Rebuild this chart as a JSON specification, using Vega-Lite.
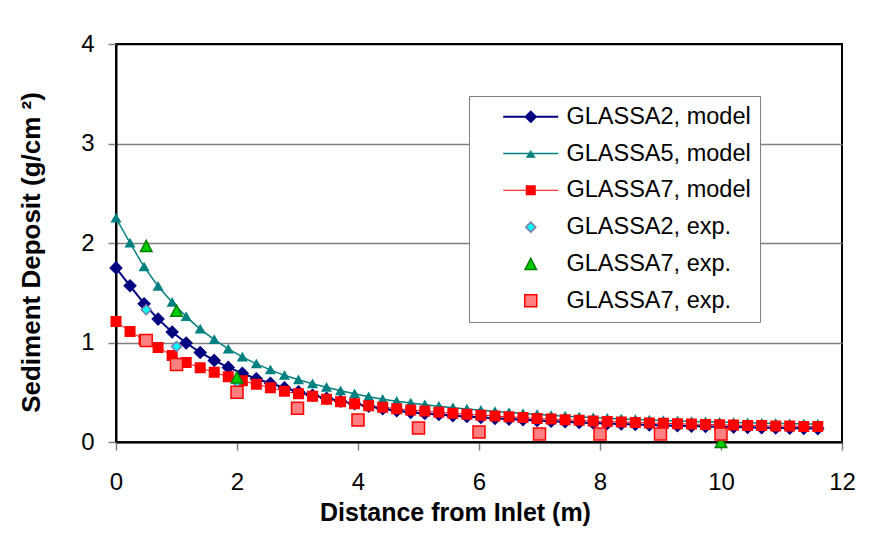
{
  "$schema": "https://vega.github.io/schema/vega-lite/v6.json",
  "width": 726,
  "height": 398,
  "autosize": {"type": "none"},
  "padding": {"left": 116, "top": 44, "right": 32, "bottom": 97},
  "background": "white",
  "config": {
    "font": "Liberation Sans",
    "view": {"stroke": "black", "strokeWidth": 2, "fill": "white"},
    "legend": {
      "orient": "none", "legendX": 353, "legendY": 52,
      "padding": 9,
      "fillColor": "white", "strokeColor": "#808080",
      "labelFontSize": 23.5, "labelColor": "black", "labelLimit": 400,
      "symbolSize": 100, "symbolOffset": 41, "labelOffset": 24,
      "rowPadding": 11.8
    }
  },
  "data": {
    "values": [
      {"series": "GLASSA2, model", "x": 0, "y": 1.75}, {"series": "GLASSA2, model", "x": 0.232, "y": 1.57}, {"series": "GLASSA2, model", "x": 0.464, "y": 1.39}, {"series": "GLASSA2, model", "x": 0.696, "y": 1.235}, {"series": "GLASSA2, model", "x": 0.928, "y": 1.105}, {"series": "GLASSA2, model", "x": 1.16, "y": 0.995}, {"series": "GLASSA2, model", "x": 1.392, "y": 0.9}, {"series": "GLASSA2, model", "x": 1.624, "y": 0.82}, {"series": "GLASSA2, model", "x": 1.856, "y": 0.75}, {"series": "GLASSA2, model", "x": 2.088, "y": 0.69}, {"series": "GLASSA2, model", "x": 2.32, "y": 0.635}, {"series": "GLASSA2, model", "x": 2.552, "y": 0.59}, {"series": "GLASSA2, model", "x": 2.784, "y": 0.545}, {"series": "GLASSA2, model", "x": 3.016, "y": 0.505}, {"series": "GLASSA2, model", "x": 3.248, "y": 0.47}, {"series": "GLASSA2, model", "x": 3.48, "y": 0.44}, {"series": "GLASSA2, model", "x": 3.712, "y": 0.41}, {"series": "GLASSA2, model", "x": 3.944, "y": 0.385}, {"series": "GLASSA2, model", "x": 4.176, "y": 0.36}, {"series": "GLASSA2, model", "x": 4.408, "y": 0.335}, {"series": "GLASSA2, model", "x": 4.64, "y": 0.315}, {"series": "GLASSA2, model", "x": 4.872, "y": 0.298}, {"series": "GLASSA2, model", "x": 5.104, "y": 0.286}, {"series": "GLASSA2, model", "x": 5.336, "y": 0.276}, {"series": "GLASSA2, model", "x": 5.568, "y": 0.265}, {"series": "GLASSA2, model", "x": 5.8, "y": 0.256}, {"series": "GLASSA2, model", "x": 6.032, "y": 0.247}, {"series": "GLASSA2, model", "x": 6.264, "y": 0.238}, {"series": "GLASSA2, model", "x": 6.496, "y": 0.23}, {"series": "GLASSA2, model", "x": 6.728, "y": 0.223}, {"series": "GLASSA2, model", "x": 6.96, "y": 0.216}, {"series": "GLASSA2, model", "x": 7.192, "y": 0.209}, {"series": "GLASSA2, model", "x": 7.424, "y": 0.203}, {"series": "GLASSA2, model", "x": 7.656, "y": 0.197}, {"series": "GLASSA2, model", "x": 7.888, "y": 0.191}, {"series": "GLASSA2, model", "x": 8.12, "y": 0.186}, {"series": "GLASSA2, model", "x": 8.352, "y": 0.181}, {"series": "GLASSA2, model", "x": 8.584, "y": 0.176}, {"series": "GLASSA2, model", "x": 8.816, "y": 0.172}, {"series": "GLASSA2, model", "x": 9.048, "y": 0.167}, {"series": "GLASSA2, model", "x": 9.28, "y": 0.164}, {"series": "GLASSA2, model", "x": 9.512, "y": 0.16}, {"series": "GLASSA2, model", "x": 9.744, "y": 0.156}, {"series": "GLASSA2, model", "x": 9.976, "y": 0.153}, {"series": "GLASSA2, model", "x": 10.208, "y": 0.15}, {"series": "GLASSA2, model", "x": 10.44, "y": 0.147}, {"series": "GLASSA2, model", "x": 10.672, "y": 0.144}, {"series": "GLASSA2, model", "x": 10.904, "y": 0.142}, {"series": "GLASSA2, model", "x": 11.136, "y": 0.139}, {"series": "GLASSA2, model", "x": 11.368, "y": 0.137}, {"series": "GLASSA2, model", "x": 11.6, "y": 0.135},
      {"series": "GLASSA5, model", "x": 0, "y": 2.25}, {"series": "GLASSA5, model", "x": 0.232, "y": 2.0}, {"series": "GLASSA5, model", "x": 0.464, "y": 1.76}, {"series": "GLASSA5, model", "x": 0.696, "y": 1.565}, {"series": "GLASSA5, model", "x": 0.928, "y": 1.405}, {"series": "GLASSA5, model", "x": 1.16, "y": 1.26}, {"series": "GLASSA5, model", "x": 1.392, "y": 1.135}, {"series": "GLASSA5, model", "x": 1.624, "y": 1.03}, {"series": "GLASSA5, model", "x": 1.856, "y": 0.935}, {"series": "GLASSA5, model", "x": 2.088, "y": 0.855}, {"series": "GLASSA5, model", "x": 2.32, "y": 0.785}, {"series": "GLASSA5, model", "x": 2.552, "y": 0.725}, {"series": "GLASSA5, model", "x": 2.784, "y": 0.67}, {"series": "GLASSA5, model", "x": 3.016, "y": 0.625}, {"series": "GLASSA5, model", "x": 3.248, "y": 0.585}, {"series": "GLASSA5, model", "x": 3.48, "y": 0.55}, {"series": "GLASSA5, model", "x": 3.712, "y": 0.515}, {"series": "GLASSA5, model", "x": 3.944, "y": 0.485}, {"series": "GLASSA5, model", "x": 4.176, "y": 0.455}, {"series": "GLASSA5, model", "x": 4.408, "y": 0.43}, {"series": "GLASSA5, model", "x": 4.64, "y": 0.41}, {"series": "GLASSA5, model", "x": 4.872, "y": 0.392}, {"series": "GLASSA5, model", "x": 5.104, "y": 0.375}, {"series": "GLASSA5, model", "x": 5.336, "y": 0.36}, {"series": "GLASSA5, model", "x": 5.568, "y": 0.345}, {"series": "GLASSA5, model", "x": 5.8, "y": 0.331}, {"series": "GLASSA5, model", "x": 6.032, "y": 0.319}, {"series": "GLASSA5, model", "x": 6.264, "y": 0.307}, {"series": "GLASSA5, model", "x": 6.496, "y": 0.296}, {"series": "GLASSA5, model", "x": 6.728, "y": 0.286}, {"series": "GLASSA5, model", "x": 6.96, "y": 0.277}, {"series": "GLASSA5, model", "x": 7.192, "y": 0.268}, {"series": "GLASSA5, model", "x": 7.424, "y": 0.26}, {"series": "GLASSA5, model", "x": 7.656, "y": 0.252}, {"series": "GLASSA5, model", "x": 7.888, "y": 0.245}, {"series": "GLASSA5, model", "x": 8.12, "y": 0.238}, {"series": "GLASSA5, model", "x": 8.352, "y": 0.232}, {"series": "GLASSA5, model", "x": 8.584, "y": 0.227}, {"series": "GLASSA5, model", "x": 8.816, "y": 0.221}, {"series": "GLASSA5, model", "x": 9.048, "y": 0.216}, {"series": "GLASSA5, model", "x": 9.28, "y": 0.212}, {"series": "GLASSA5, model", "x": 9.512, "y": 0.207}, {"series": "GLASSA5, model", "x": 9.744, "y": 0.203}, {"series": "GLASSA5, model", "x": 9.976, "y": 0.2}, {"series": "GLASSA5, model", "x": 10.208, "y": 0.196}, {"series": "GLASSA5, model", "x": 10.44, "y": 0.193}, {"series": "GLASSA5, model", "x": 10.672, "y": 0.19}, {"series": "GLASSA5, model", "x": 10.904, "y": 0.187}, {"series": "GLASSA5, model", "x": 11.136, "y": 0.185}, {"series": "GLASSA5, model", "x": 11.368, "y": 0.182}, {"series": "GLASSA5, model", "x": 11.6, "y": 0.18},
      {"series": "GLASSA7, model", "x": 0, "y": 1.21}, {"series": "GLASSA7, model", "x": 0.232, "y": 1.11}, {"series": "GLASSA7, model", "x": 0.464, "y": 1.03}, {"series": "GLASSA7, model", "x": 0.696, "y": 0.95}, {"series": "GLASSA7, model", "x": 0.928, "y": 0.87}, {"series": "GLASSA7, model", "x": 1.16, "y": 0.8}, {"series": "GLASSA7, model", "x": 1.392, "y": 0.745}, {"series": "GLASSA7, model", "x": 1.624, "y": 0.7}, {"series": "GLASSA7, model", "x": 1.856, "y": 0.655}, {"series": "GLASSA7, model", "x": 2.088, "y": 0.615}, {"series": "GLASSA7, model", "x": 2.32, "y": 0.58}, {"series": "GLASSA7, model", "x": 2.552, "y": 0.545}, {"series": "GLASSA7, model", "x": 2.784, "y": 0.51}, {"series": "GLASSA7, model", "x": 3.016, "y": 0.485}, {"series": "GLASSA7, model", "x": 3.248, "y": 0.46}, {"series": "GLASSA7, model", "x": 3.48, "y": 0.43}, {"series": "GLASSA7, model", "x": 3.712, "y": 0.405}, {"series": "GLASSA7, model", "x": 3.944, "y": 0.385}, {"series": "GLASSA7, model", "x": 4.176, "y": 0.365}, {"series": "GLASSA7, model", "x": 4.408, "y": 0.35}, {"series": "GLASSA7, model", "x": 4.64, "y": 0.335}, {"series": "GLASSA7, model", "x": 4.872, "y": 0.322}, {"series": "GLASSA7, model", "x": 5.104, "y": 0.311}, {"series": "GLASSA7, model", "x": 5.336, "y": 0.299}, {"series": "GLASSA7, model", "x": 5.568, "y": 0.289}, {"series": "GLASSA7, model", "x": 5.8, "y": 0.279}, {"series": "GLASSA7, model", "x": 6.032, "y": 0.27}, {"series": "GLASSA7, model", "x": 6.264, "y": 0.261}, {"series": "GLASSA7, model", "x": 6.496, "y": 0.253}, {"series": "GLASSA7, model", "x": 6.728, "y": 0.245}, {"series": "GLASSA7, model", "x": 6.96, "y": 0.237}, {"series": "GLASSA7, model", "x": 7.192, "y": 0.231}, {"series": "GLASSA7, model", "x": 7.424, "y": 0.224}, {"series": "GLASSA7, model", "x": 7.656, "y": 0.218}, {"series": "GLASSA7, model", "x": 7.888, "y": 0.212}, {"series": "GLASSA7, model", "x": 8.12, "y": 0.207}, {"series": "GLASSA7, model", "x": 8.352, "y": 0.202}, {"series": "GLASSA7, model", "x": 8.584, "y": 0.197}, {"series": "GLASSA7, model", "x": 8.816, "y": 0.192}, {"series": "GLASSA7, model", "x": 9.048, "y": 0.188}, {"series": "GLASSA7, model", "x": 9.28, "y": 0.184}, {"series": "GLASSA7, model", "x": 9.512, "y": 0.18}, {"series": "GLASSA7, model", "x": 9.744, "y": 0.177}, {"series": "GLASSA7, model", "x": 9.976, "y": 0.174}, {"series": "GLASSA7, model", "x": 10.208, "y": 0.17}, {"series": "GLASSA7, model", "x": 10.44, "y": 0.167}, {"series": "GLASSA7, model", "x": 10.672, "y": 0.165}, {"series": "GLASSA7, model", "x": 10.904, "y": 0.162}, {"series": "GLASSA7, model", "x": 11.136, "y": 0.16}, {"series": "GLASSA7, model", "x": 11.368, "y": 0.157}, {"series": "GLASSA7, model", "x": 11.6, "y": 0.155},
      {"series": "GLASSA2, exp.", "x": 0.5, "y": 1.33}, {"series": "GLASSA2, exp.", "x": 1.0, "y": 0.96}, {"series": "GLASSA2, exp.", "x": 2.0, "y": 0.6},
      {"series": "GLASSA5, exp.", "x": 0.5, "y": 1.97}, {"series": "GLASSA5, exp.", "x": 1.0, "y": 1.32}, {"series": "GLASSA5, exp.", "x": 2.0, "y": 0.65}, {"series": "GLASSA5, exp.", "x": 10.0, "y": 0.0},
      {"series": "GLASSA7, exp.", "x": 0.5, "y": 1.02}, {"series": "GLASSA7, exp.", "x": 1.0, "y": 0.78}, {"series": "GLASSA7, exp.", "x": 2.0, "y": 0.5}, {"series": "GLASSA7, exp.", "x": 3.0, "y": 0.34}, {"series": "GLASSA7, exp.", "x": 4.0, "y": 0.22}, {"series": "GLASSA7, exp.", "x": 5.0, "y": 0.14}, {"series": "GLASSA7, exp.", "x": 6.0, "y": 0.1}, {"series": "GLASSA7, exp.", "x": 7.0, "y": 0.08}, {"series": "GLASSA7, exp.", "x": 8.0, "y": 0.08}, {"series": "GLASSA7, exp.", "x": 9.0, "y": 0.08}, {"series": "GLASSA7, exp.", "x": 10.0, "y": 0.08}
    ]
  },
  "encoding": {
    "x": {
      "field": "x", "type": "quantitative",
      "scale": {"domain": [0, 12], "nice": false, "zero": false},
      "title": "Distance from Inlet (m)",
      "axis": {
        "values": [0, 2, 4, 6, 8, 10, 12], "grid": false,
        "tickSize": 8, "tickColor": "#808080", "tickWidth": 1.5,
        "domainColor": "black", "domainWidth": 2,
        "labelFontSize": 24, "labelColor": "black", "labelPadding": 20, "labelFlush": false, "labelOverlap": false,
        "titleFontSize": 25, "titleFontWeight": "bold", "titleColor": "black", "titlePadding": 6, "titleX": 339
      }
    },
    "y": {
      "field": "y", "type": "quantitative",
      "scale": {"domain": [0, 4], "nice": false, "zero": false},
      "title": "Sediment Deposit (g/cm ²)",
      "axis": {
        "values": [0, 1, 2, 3, 4], "grid": true,
        "gridColor": {"condition": {"test": "datum.value === 4", "value": "black"}, "value": "#808080"},
        "gridWidth": 1.5,
        "tickSize": 8, "tickColor": "#808080", "tickWidth": 1.5,
        "domainColor": "black", "domainWidth": 2,
        "labelFontSize": 24, "labelColor": "black", "labelPadding": 14, "labelFlush": false,
        "titleFontSize": 26, "titleFontWeight": "bold", "titleColor": "black", "titlePadding": 36, "titleY": 208
      }
    }
  },
  "layer": [
    {
      "transform": [{"filter": "datum.series === 'GLASSA2, model'"}],
      "mark": {"type": "line", "color": "#000080", "strokeWidth": 2}
    },
    {
      "transform": [{"filter": "datum.series === 'GLASSA5, model'"}],
      "mark": {"type": "line", "color": "#008080", "strokeWidth": 1.5}
    },
    {
      "transform": [{"filter": "datum.series === 'GLASSA7, model'"}],
      "mark": {"type": "line", "color": "#ff0000", "strokeWidth": 1}
    },
    {
      "mark": {"type": "point", "size": 100, "strokeWidth": 1.5, "opacity": 1},
      "encoding": {
        "shape": {
          "field": "series", "type": "nominal", "legend": null,
          "scale": {
            "domain": ["GLASSA2, exp.", "GLASSA5, exp.", "GLASSA7, exp.", "GLASSA2, model", "GLASSA5, model", "GLASSA7, model"],
            "range": ["M0,-1L1,0L0,1L-1,0Z", "M0,-1.12L1.15,1.12L-1.15,1.12Z", "M-1.2,-1.2L1.2,-1.2L1.2,1.2L-1.2,1.2Z", "M0,-1.15L1.15,0L0,1.15L-1.15,0Z", "M0,-0.74L0.85,0.74L-0.85,0.74Z", "M-0.95,-0.95L0.95,-0.95L0.95,0.95L-0.95,0.95Z"]
          }
        },
        "stroke": {
          "field": "series", "type": "nominal",
          "scale": {
            "domain": ["GLASSA2, model", "GLASSA5, model", "GLASSA7, model", "GLASSA2, exp.", "GLASSA5, exp.", "GLASSA7, exp."],
            "range": ["#000080", "#008080", "#ff0000", "#7a7aa8", "#008000", "#ff0000"]
          },
          "legend": {
            "title": null,
            "labelExpr": "datum.value === 'GLASSA5, exp.' ? 'GLASSA7, exp.' : datum.label",
            "encoding": {
              "symbols": {
                "shape": {"value": {"expr": "datum.value === 'GLASSA2, model' ? 'M-5.5,-0.2L5.5,-0.2L5.5,0.2L-5.5,0.2Z M0,-1.3L1.3,0L0,1.3L-1.3,0Z' : datum.value === 'GLASSA5, model' ? 'M-5.5,-0.15L5.5,-0.15L5.5,0.15L-5.5,0.15Z M0,-0.7L1,0.85L-1,0.85Z' : datum.value === 'GLASSA7, model' ? 'M-5.5,-0.1L5.5,-0.1L5.5,0.1L-5.5,0.1Z M-1,-1L1,-1L1,1L-1,1Z' : datum.value === 'GLASSA2, exp.' ? 'M0,-1L1,0L0,1L-1,0Z' : datum.value === 'GLASSA5, exp.' ? 'M0,-1.12L1.15,1.12L-1.15,1.12Z' : 'M-1.2,-1.2L1.2,-1.2L1.2,1.2L-1.2,1.2Z'"}},
                "strokeWidth": {"value": {"expr": "datum.value === 'GLASSA2, model' || datum.value === 'GLASSA5, model' || datum.value === 'GLASSA7, model' ? 0 : 1.5"}}
              }
            }
          }
        },
        "fill": {
          "field": "series", "type": "nominal",
          "scale": {
            "domain": ["GLASSA2, model", "GLASSA5, model", "GLASSA7, model", "GLASSA2, exp.", "GLASSA5, exp.", "GLASSA7, exp."],
            "range": ["#000080", "#008080", "#ff0000", "#00ffff", "#00cc00", "#ff8080"]
          },
          "legend": {
            "title": null,
            "labelExpr": "datum.value === 'GLASSA5, exp.' ? 'GLASSA7, exp.' : datum.label",
            "encoding": {
              "symbols": {
                "shape": {"value": {"expr": "datum.value === 'GLASSA2, model' ? 'M-5.5,-0.2L5.5,-0.2L5.5,0.2L-5.5,0.2Z M0,-1.3L1.3,0L0,1.3L-1.3,0Z' : datum.value === 'GLASSA5, model' ? 'M-5.5,-0.15L5.5,-0.15L5.5,0.15L-5.5,0.15Z M0,-0.7L1,0.85L-1,0.85Z' : datum.value === 'GLASSA7, model' ? 'M-5.5,-0.1L5.5,-0.1L5.5,0.1L-5.5,0.1Z M-1,-1L1,-1L1,1L-1,1Z' : datum.value === 'GLASSA2, exp.' ? 'M0,-1L1,0L0,1L-1,0Z' : datum.value === 'GLASSA5, exp.' ? 'M0,-1.12L1.15,1.12L-1.15,1.12Z' : 'M-1.2,-1.2L1.2,-1.2L1.2,1.2L-1.2,1.2Z'"}},
                "strokeWidth": {"value": {"expr": "datum.value === 'GLASSA2, model' || datum.value === 'GLASSA5, model' || datum.value === 'GLASSA7, model' ? 0 : 1.5"}}
              }
            }
          }
        }
      }
    }
  ]
}
